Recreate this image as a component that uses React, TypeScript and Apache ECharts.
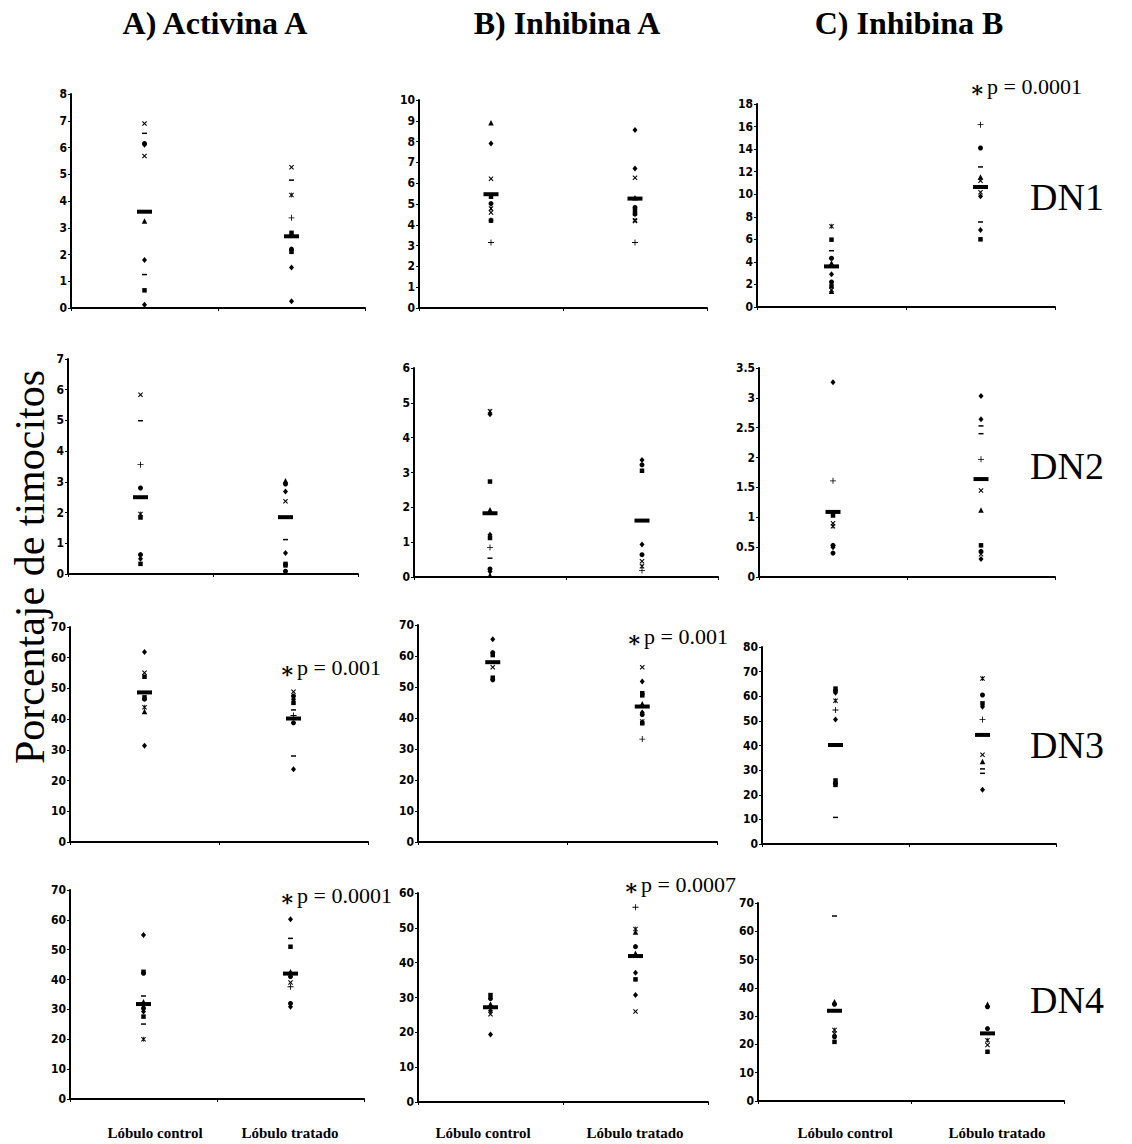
import React, { useEffect, useRef } from "react";
import * as echarts from "echarts";

// ---------- texts ----------
const categories = ["Lóbulo control", "Lóbulo tratado"];
const columnTitles = ["A) Activina A", "B) Inhibina A", "C) Inhibina B"];
const rowLabels = ["DN1", "DN2", "DN3", "DN4"];
const yAxisTitle = "Porcentaje de timocitos";

// ---------- y axis scales (A1,B1,C1, A2,B2,C2, A3,B3,C3, A4,B4,C4) ----------
const yMax = [8, 10, 18, 7, 6, 3.5, 70, 70, 80, 70, 60, 70];
const yStep = [1, 1, 2, 1, 1, 0.5, 10, 10, 10, 10, 10, 10];

// ---------- data: values per lobe; marker codes kept separately ----------
// DN1
const a1Control = [6.9, 6.53, 6.15, 6.1, 5.68, 3.25, 1.79, 1.25, 0.66, 0.12];
const a1Treated = [5.26, 4.78, 4.22, 3.37, 2.81, 2.2, 2.1, 1.51, 0.25];
const a1Means = [3.6, 2.68];
const b1Control = [8.91, 7.91, 6.21, 5.35, 5.02, 4.78, 4.59, 4.22, 4.2, 3.15];
const b1Treated = [8.56, 6.71, 6.26, 5.3, 4.83, 4.67, 4.51, 4.22, 4.18, 3.15];
const b1Means = [5.47, 5.26];
const c1Control = [7.15, 5.97, 4.99, 4.32, 3.9, 2.9, 2.22, 1.83, 1.5, 1.39];
const c1Treated = [16.17, 14.1, 12.42, 11.53, 11.2, 10.17, 9.82, 7.54, 6.83, 6.0];
const c1Means = [3.6, 10.64];
// DN2
const a2Control = [5.84, 4.99, 3.56, 2.8, 1.95, 1.84, 0.63, 0.5, 0.33];
const a2Treated = [3.04, 2.93, 2.69, 2.37, 1.12, 0.68, 0.33, 0.28, 0.09];
const a2Means = [2.5, 1.85];
const b2Control = [4.76, 4.67, 2.74, 1.93, 1.21, 1.12, 0.85, 0.54, 0.23, 0.16, 0.05];
const b2Treated = [3.36, 3.22, 3.05, 0.93, 0.64, 0.45, 0.31, 0.19];
const b2Means = [1.83, 1.62];
const c2Control = [3.26, 1.61, 1.03, 0.9, 0.85, 0.53, 0.5, 0.4];
const c2Treated = [3.03, 2.64, 2.53, 2.4, 1.97, 1.45, 1.12, 0.53, 0.43, 0.38, 0.3];
const c2Means = [1.09, 1.64];
// DN3
const a3Control = [61.9, 55.1, 53.8, 47.1, 46.5, 43.9, 42.5, 31.3];
const a3Treated = [48.9, 47.5, 46.5, 45.3, 43.0, 41.2, 38.8, 28.0, 23.7];
const a3Means = [48.7, 40.2];
const b3Control = [65.4, 61.1, 60.3, 56.4, 53.0, 52.3];
const b3Treated = [56.4, 51.8, 48.0, 47.3, 44.6, 41.8, 41.1, 38.9, 38.3, 33.2];
const b3Means = [58.0, 43.7];
const c3Control = [63.1, 62.2, 61.4, 58.2, 54.4, 50.6, 25.8, 24.7, 24.0, 10.8];
const c3Treated = [67.2, 60.5, 57.1, 55.7, 50.6, 36.2, 33.5, 30.5, 28.7, 22.0];
const c3Means = [40.2, 44.3];
// DN4
const a4Control = [54.9, 42.6, 42.1, 34.5, 32.6, 30.4, 29.3, 27.6, 25.1, 20.0];
const a4Treated = [60.2, 53.8, 51.0, 42.6, 41.0, 39.0, 37.6, 32.0, 30.9];
const a4Means = [31.8, 42.0];
const b4Control = [30.7, 29.7, 28.1, 26.2, 25.2, 19.4];
const b4Treated = [55.9, 49.7, 48.8, 44.6, 42.7, 37.1, 35.2, 30.7, 26.0];
const b4Means = [27.2, 41.9];
const c4Control = [65.4, 35.1, 34.2, 25.1, 23.9, 22.7, 20.9];
const c4Treated = [34.2, 33.3, 25.6, 21.5, 19.8, 17.4];
const c4Means = [31.9, 23.9];

// significance notes: [panel index, text]
const pNotes: [number, string][] = [
  [2, "p = 0.0001"],
  [6, "p = 0.001"],
  [7, "p = 0.001"],
  [9, "p = 0.0001"],
  [10, "p = 0.0007"],
];

// ---------- marker codes (style) ----------
// d diamond, s square, t triangle, x cross, * star, o circle, + plus, - dash
const marks = [
  ["x-odxtd-sd", "x-*+sosdd"],
  ["tdxso*xds+", "ddxtoso*x+"],
  ["*s-otdosxt", "+o-txxd-ds"],
  ["x-+o*sods", "todx-dsso"],
  ["*dstds+-odt", "dosdox*+"],
  ["d+sx*odo", "dd--+xtsoxd"],
  ["dxsso*td", "xods-+o-d"],
  ["dosxso", "xdsstdo*s+"],
  ["sod*+dsos-", "*osd+xt--d"],
  ["dso-tods-*", "d-stox+od"],
  ["sotdxd", "+*totdsdx"],
  ["-to*xos", "too*xs"],
];

// ---------- layout (pixel positions of each plot area) ----------
const layout = [
  { l: 71, r: 365, t: 94, b: 308 },
  { l: 419, r: 707, t: 100, b: 308 },
  { l: 757, r: 1055, t: 104, b: 307 },
  { l: 68, r: 358, t: 359, b: 574 },
  { l: 414, r: 718, t: 368, b: 577 },
  { l: 759, r: 1055, t: 368, b: 577 },
  { l: 70, r: 368, t: 627, b: 842 },
  { l: 418, r: 717, t: 625, b: 842 },
  { l: 762, r: 1056, t: 647, b: 844 },
  { l: 70, r: 364, t: 890, b: 1099 },
  { l: 418, r: 708, t: 893, b: 1102 },
  { l: 758, r: 1064, t: 903, b: 1101 },
];
const titlePos = [215, 567, 909];
const rowLabelY = [197, 466, 745, 1000];
const bottomLabelX = [
  [155, 290],
  [483, 635],
  [845, 997],
];
const pNotePos: Record<number, [number, number]> = {
  2: [977, 86],
  6: [287, 667],
  7: [634, 636],
  9: [287, 895],
  10: [631, 884],
};

const X_PATH =
  "path://M0,1.5L1.5,0L5,3.5L8.5,0L10,1.5L6.5,5L10,8.5L8.5,10L5,6.5L1.5,10L0,8.5L3.5,5Z";
const STAR_PATH =
  "path://M0,1.5L1.5,0L5,3.5L8.5,0L10,1.5L6.5,5L10,8.5L8.5,10L5,6.5L1.5,10L0,8.5L3.5,5Z M4.3,0L5.7,0L5.7,10L4.3,10Z";
const PLUS_PATH = "path://M4.3,0H5.7V4.3H10V5.7H5.7V10H4.3V5.7H0V4.3H4.3Z";

function symbolFor(code: string): { symbol: string; symbolSize: number | number[] } {
  switch (code) {
    case "d":
      return { symbol: "diamond", symbolSize: [5, 6] };
    case "s":
      return { symbol: "rect", symbolSize: 4.5 };
    case "t":
      return { symbol: "triangle", symbolSize: 5.5 };
    case "x":
      return { symbol: X_PATH, symbolSize: 5 };
    case "*":
      return { symbol: STAR_PATH, symbolSize: 5 };
    case "o":
      return { symbol: "circle", symbolSize: 5 };
    case "+":
      return { symbol: PLUS_PATH, symbolSize: 6 };
    default:
      return { symbol: "rect", symbolSize: [5, 1.5] };
  }
}

const panelData = [
  [a1Control, a1Treated, a1Means],
  [b1Control, b1Treated, b1Means],
  [c1Control, c1Treated, c1Means],
  [a2Control, a2Treated, a2Means],
  [b2Control, b2Treated, b2Means],
  [c2Control, c2Treated, c2Means],
  [a3Control, a3Treated, a3Means],
  [b3Control, b3Treated, b3Means],
  [c3Control, c3Treated, c3Means],
  [a4Control, a4Treated, a4Means],
  [b4Control, b4Treated, b4Means],
  [c4Control, c4Treated, c4Means],
];

const SERIF = "'Liberation Serif', 'Times New Roman', 'DejaVu Serif', serif";
const NARROW = "'Liberation Sans Narrow', 'Arial Narrow', 'DejaVu Sans Condensed', sans-serif";

function buildOption() {
  const grid: any[] = [];
  const xAxis: any[] = [];
  const yAxis: any[] = [];
  const series: any[] = [];

  panelData.forEach((pd, i) => {
    const L = layout[i];
    grid.push({ left: L.l, top: L.t, width: L.r - L.l, height: L.b - L.t, containLabel: false });
    xAxis.push({
      gridIndex: i,
      type: "value",
      min: 0,
      max: 2,
      interval: 1,
      axisLine: { show: true, onZero: false, lineStyle: { color: "#000", width: 2 } },
      axisTick: { show: true, length: 3, lineStyle: { color: "#000", width: 1 } },
      axisLabel: { show: false },
      splitLine: { show: false },
    });
    yAxis.push({
      gridIndex: i,
      type: "value",
      min: 0,
      max: yMax[i],
      interval: yStep[i],
      axisLine: { show: true, onZero: false, lineStyle: { color: "#000", width: 2 } },
      axisTick: { show: true, length: 3, lineStyle: { color: "#000", width: 1 } },
      axisLabel: {
        color: "#000",
        fontFamily: NARROW,
        fontWeight: "bold",
        fontSize: 12,
        margin: 4,
      },
      splitLine: { show: false },
    });

    const pts: any[] = [];
    [0, 1].forEach((c) => {
      const vals = pd[c] as number[];
      const codes = marks[i][c];
      vals.forEach((v, k) => {
        const s = symbolFor(codes[k] || "d");
        pts.push({ value: [c + 0.5, v], symbol: s.symbol, symbolSize: s.symbolSize });
      });
    });
    series.push({
      type: "scatter",
      xAxisIndex: i,
      yAxisIndex: i,
      data: pts,
      itemStyle: { color: "#000", opacity: 1 },
      silent: true,
      z: 3,
    });
    const means = pd[2] as number[];
    series.push({
      type: "scatter",
      xAxisIndex: i,
      yAxisIndex: i,
      data: means.map((m, c) => [c + 0.5, m]),
      symbol: "rect",
      symbolSize: [15, 4],
      itemStyle: { color: "#000", opacity: 1 },
      silent: true,
      z: 4,
    });
  });

  const graphic: any[] = [];
  columnTitles.forEach((t, j) => {
    graphic.push({
      type: "text",
      x: titlePos[j],
      y: 23,
      style: {
        text: t,
        font: `bold 32px ${SERIF}`,
        fill: "#000",
        textAlign: "center",
        textVerticalAlign: "middle",
      },
    });
    categories.forEach((cat, c) => {
      graphic.push({
        type: "text",
        x: bottomLabelX[j][c],
        y: 1133,
        style: {
          text: cat,
          font: `bold 15px ${SERIF}`,
          fill: "#000",
          textAlign: "center",
          textVerticalAlign: "middle",
        },
      });
    });
  });
  rowLabels.forEach((t, r) => {
    graphic.push({
      type: "text",
      x: 1030,
      y: rowLabelY[r],
      style: {
        text: t,
        font: `38px ${SERIF}`,
        fill: "#000",
        textAlign: "left",
        textVerticalAlign: "middle",
      },
    });
  });
  graphic.push({
    type: "text",
    x: 30,
    y: 567,
    rotation: Math.PI / 2,
    style: {
      text: yAxisTitle,
      font: `42px ${SERIF}`,
      fill: "#000",
      textAlign: "center",
      textVerticalAlign: "middle",
    },
  });
  pNotes.forEach(([idx, txt]) => {
    const [px, py] = pNotePos[idx];
    graphic.push({
      type: "text",
      x: px,
      y: py + 3,
      style: {
        text: "∗",
        font: `bold 22px ${SERIF}`,
        fill: "#000",
        textAlign: "center",
        textVerticalAlign: "middle",
      },
    });
    graphic.push({
      type: "text",
      x: px + 10,
      y: py,
      style: {
        text: txt,
        font: `22px ${SERIF}`,
        fill: "#000",
        textAlign: "left",
        textVerticalAlign: "middle",
      },
    });
  });

  return {
    animation: false,
    backgroundColor: "#fff",
    grid,
    xAxis,
    yAxis,
    series,
    graphic,
  };
}

export default function App() {
  const ref = useRef<HTMLDivElement>(null);
  useEffect(() => {
    if (!ref.current) return;
    const chart = echarts.init(ref.current, undefined, { renderer: "svg" });
    chart.setOption(buildOption() as any);
    return () => chart.dispose();
  }, []);
  return (
    <div
      ref={ref}
      style={{ position: "absolute", left: 0, top: 0, width: 1132, height: 1144, background: "#fff" }}
    />
  );
}
